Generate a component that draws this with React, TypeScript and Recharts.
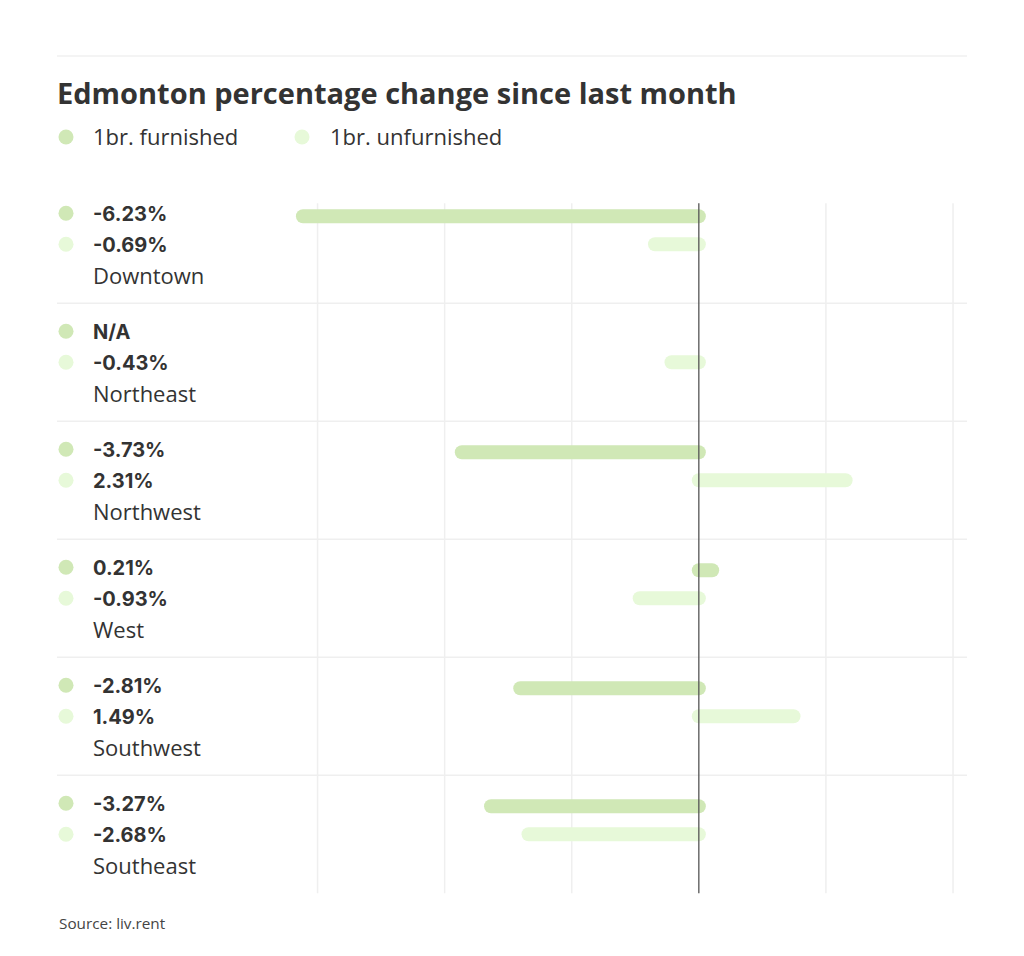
import React from 'react';
import { BarChart, Bar, XAxis, YAxis, CartesianGrid, ReferenceLine } from 'recharts';

const regions = ['Downtown', 'Northeast', 'Northwest', 'West', 'Southwest', 'Southeast'];
const furnished = [-6.23, null, -3.73, 0.21, -2.81, -3.27];
const unfurnished = [-0.69, -0.43, 2.31, -0.93, 1.49, -2.68];
const xTicks = [-6, -4, -2, 0, 2, 4];
const seriesNames = ['1br. furnished', '1br. unfurnished'];

const FURNISHED = '#d0e8b6';
const UNFURNISHED = '#e7f9d9';
const TEXT = '#333333';
const GRID = '#efefef';
const ZERO = '#555555';
const SANS = '"Open Sans", "Noto Sans", sans-serif';
const NUM = 'Inter, "Noto Sans", sans-serif';

const data = regions.map((region, i) => ({
  region,
  furnished: furnished[i],
  unfurnished: unfurnished[i],
}));

const fmt = (v: number | null) => (v == null ? 'N/A' : `${v.toFixed(2)}%`);

// horizontal pill: rounded ends stick out half the bar height on both sides
function PillBar(props: any) {
  const { x, y, width, height, fill } = props;
  if (x == null || width == null || height == null) return <g />;
  const left = Math.min(x, x + width) - height / 2;
  const w = Math.abs(width) + height;
  return <rect x={left} y={y} width={w} height={height} rx={height / 2} fill={fill} />;
}

function RegionTick(props: any) {
  const { x, y, payload } = props;
  const i = regions.indexOf(payload.value);
  return (
    <g>
      <circle cx={x + 9} cy={y - 31} r={7.5} fill={FURNISHED} />
      <text x={x + 36} y={y - 23} fontFamily={NUM} fontWeight={700} fontSize={20} fill={TEXT}>
        {fmt(furnished[i])}
      </text>
      <circle cx={x + 9} cy={y} r={7.5} fill={UNFURNISHED} />
      <text x={x + 36} y={y + 7.5} fontFamily={NUM} fontWeight={700} fontSize={20} fill={TEXT}>
        {fmt(unfurnished[i])}
      </text>
      <text x={x + 36} y={y + 40} fontFamily={SANS} fontSize={22} fill={TEXT}>
        {payload.value}
      </text>
    </g>
  );
}

// vertical rule that starts a little below the top of the plot
const trimmedLine = (color: string, w: number) => (p: any) => (
  <line
    x1={p.x1}
    x2={p.x2}
    y1={Math.min(p.y1, p.y2) + 18}
    y2={Math.max(p.y1, p.y2)}
    stroke={color}
    strokeWidth={w}
  />
);

export default function App() {
  return (
    <div style={{ position: 'relative', width: 1008, height: 940, background: '#fff' }}>
      <svg width={1008} height={940} style={{ position: 'absolute', left: 0, top: 0 }}>
        <line x1={49} x2={959} y1={48} y2={48} stroke="#f0f0f0" strokeWidth={1.5} />
        <text x={49} y={96} fontFamily={SANS} fontWeight={700} fontSize={29} fill={TEXT}>
          Edmonton percentage change since last month
        </text>
        <circle cx={58} cy={129} r={7.5} fill={FURNISHED} />
        <text x={85} y={136.5} fontFamily={SANS} fontSize={22} fill={TEXT}>
          {seriesNames[0]}
        </text>
        <circle cx={294} cy={129} r={7.5} fill={UNFURNISHED} />
        <text x={322} y={136.5} fontFamily={SANS} fontSize={22} fill={TEXT}>
          {seriesNames[1]}
        </text>
        <text x={51} y={921} fontFamily={SANS} fontSize={15.3} fill="#444">
          Source: liv.rent
        </text>
      </svg>
      <div style={{ position: 'absolute', left: 0, top: 0 }}>
        <BarChart
          width={1008}
          height={900}
          data={data}
          layout="vertical"
          margin={{ top: 177.3, right: 49, bottom: 14.7, left: 48 }}
          barSize={14}
          barGap={14}
        >
          <CartesianGrid
            stroke={GRID}
            strokeWidth={1.5}
            vertical={false}
            horizontalCoordinatesGenerator={({ offset }: any) =>
              regions.slice(1).map((_, i) => offset.top + ((i + 1) * offset.height) / regions.length)
            }
          />
          <XAxis
            type="number"
            domain={[-10.1, 4.22]}
            ticks={xTicks}
            height={0}
            tick={false}
            axisLine={false}
            tickLine={false}
          />
          <YAxis
            type="category"
            dataKey="region"
            width={1}
            tickSize={0}
            tickMargin={0}
            axisLine={false}
            tickLine={false}
            interval={0}
            tick={(p: any) => <RegionTick {...p} />}
          />
          {xTicks
            .filter((t) => t !== 0)
            .map((t) => (
              <ReferenceLine
                key={t}
                x={t}
                stroke={GRID}
                zIndex={-50}
                shape={trimmedLine(GRID, 1.5)}
              />
            ))}
          <Bar
            dataKey="furnished"
            fill={FURNISHED}
            isAnimationActive={false}
            shape={(p: any) => (p.payload.furnished == null ? <g /> : <PillBar {...p} />)}
          />
          <Bar
            dataKey="unfurnished"
            fill={UNFURNISHED}
            isAnimationActive={false}
            shape={(p: any) => <PillBar {...p} />}
          />
          <Bar dataKey="spacer" fill="none" isAnimationActive={false} shape={() => <g />} />
          <ReferenceLine x={0} stroke={ZERO} shape={trimmedLine(ZERO, 1.3)} />
        </BarChart>
      </div>
    </div>
  );
}
